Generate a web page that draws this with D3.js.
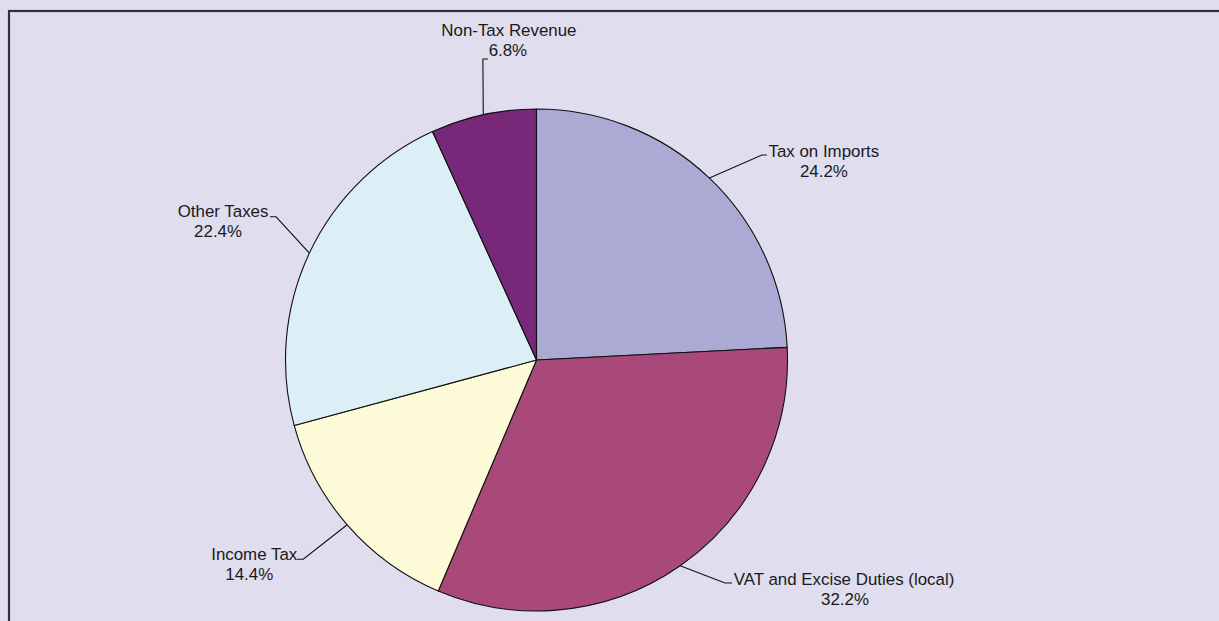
<!DOCTYPE html>
<html>
<head>
<meta charset="utf-8">
<script src="https://cdn.jsdelivr.net/npm/d3@7"></script>
<style>
  html, body { margin: 0; padding: 0; background: #e0ddef; }
  svg { display: block; }
</style>
</head>
<body>
<svg id="chart" width="1219" height="621"></svg>
<script>
// Revenue composition (share of total, %)
const categories = ["Tax on Imports", "VAT and Excise Duties (local)", "Income Tax", "Other Taxes", "Non-Tax Revenue"];
const shares = [24.2, 32.2, 14.4, 22.4, 6.8];
const sliceColors = ["#aaaad5", "#a8497a", "#fdfad7", "#dceef6", "#782878"];

// Label placement: elbow of the leader line in polar terms around the pie centre,
// short horizontal tick, and the text block offset from the tick end.
const labelAngles = [47.7, 139.8, 229.5, 298.8, -10.1];   // degrees, clockwise from top
const labelRadii  = [304.7, 292, 306.8, 297.2, 305.7];
const tickLengths = [5, 7, -6, -6, 5];
const textOffsets = [[57, 2], [112, 2], [-43, 1], [-47, 0], [21, -23]];
const valueLineShift = [0, 1, -5, -5, -1];

const width = 1219, height = 621;
const cx = 536.5, cy = 360, radius = 251;

const svg = d3.select("#chart");

// outer frame
svg.append("rect")
  .attr("x", 9).attr("y", 11)
  .attr("width", width + 20).attr("height", height + 20)
  .attr("fill", "#e0ddef")
  .attr("stroke", "#333138")
  .attr("stroke-width", 2.2);

const data = categories.map((c, i) => ({ name: c, value: shares[i], color: sliceColors[i], idx: i }));

const pie = d3.pie().value(d => d.value).sort(null);
const arc = d3.arc().innerRadius(0).outerRadius(radius);
const arcs = pie(data);

const g = svg.append("g").attr("transform", `translate(${cx},${cy})`);

g.selectAll("path.slice")
  .data(arcs)
  .join("path")
  .attr("class", "slice")
  .attr("d", arc)
  .attr("fill", d => d.data.color)
  .attr("stroke", "#111")
  .attr("stroke-width", 1.1)
  .attr("stroke-linejoin", "round");

// leader lines and labels
const rad = Math.PI / 180;
arcs.forEach((a, i) => {
  const mid = (a.startAngle + a.endAngle) / 2;
  const p0 = [Math.sin(mid) * radius, -Math.cos(mid) * radius];
  const ang = labelAngles[i] * rad;
  const p1 = [Math.sin(ang) * labelRadii[i], -Math.cos(ang) * labelRadii[i]];
  const p2 = [p1[0] + tickLengths[i], p1[1]];

  g.append("path")
    .attr("d", d3.line()([p0, p1, p2]))
    .attr("fill", "none")
    .attr("stroke", "#111")
    .attr("stroke-width", 1.1);

  const tx = p2[0] + textOffsets[i][0];
  const ty = p2[1] + textOffsets[i][1];
  const t = g.append("text")
    .attr("text-anchor", "middle")
    .attr("font-family", "'Liberation Sans', Arial, sans-serif")
    .attr("font-size", 16.9)
    .attr("fill", "#1a1a1a");
  t.append("tspan").attr("x", tx).attr("y", ty).text(a.data.name);
  t.append("tspan").attr("x", tx + valueLineShift[i]).attr("y", ty + 20)
    .text(d3.format(".1f")(a.data.value) + "%");
});
</script>
</body>
</html>
